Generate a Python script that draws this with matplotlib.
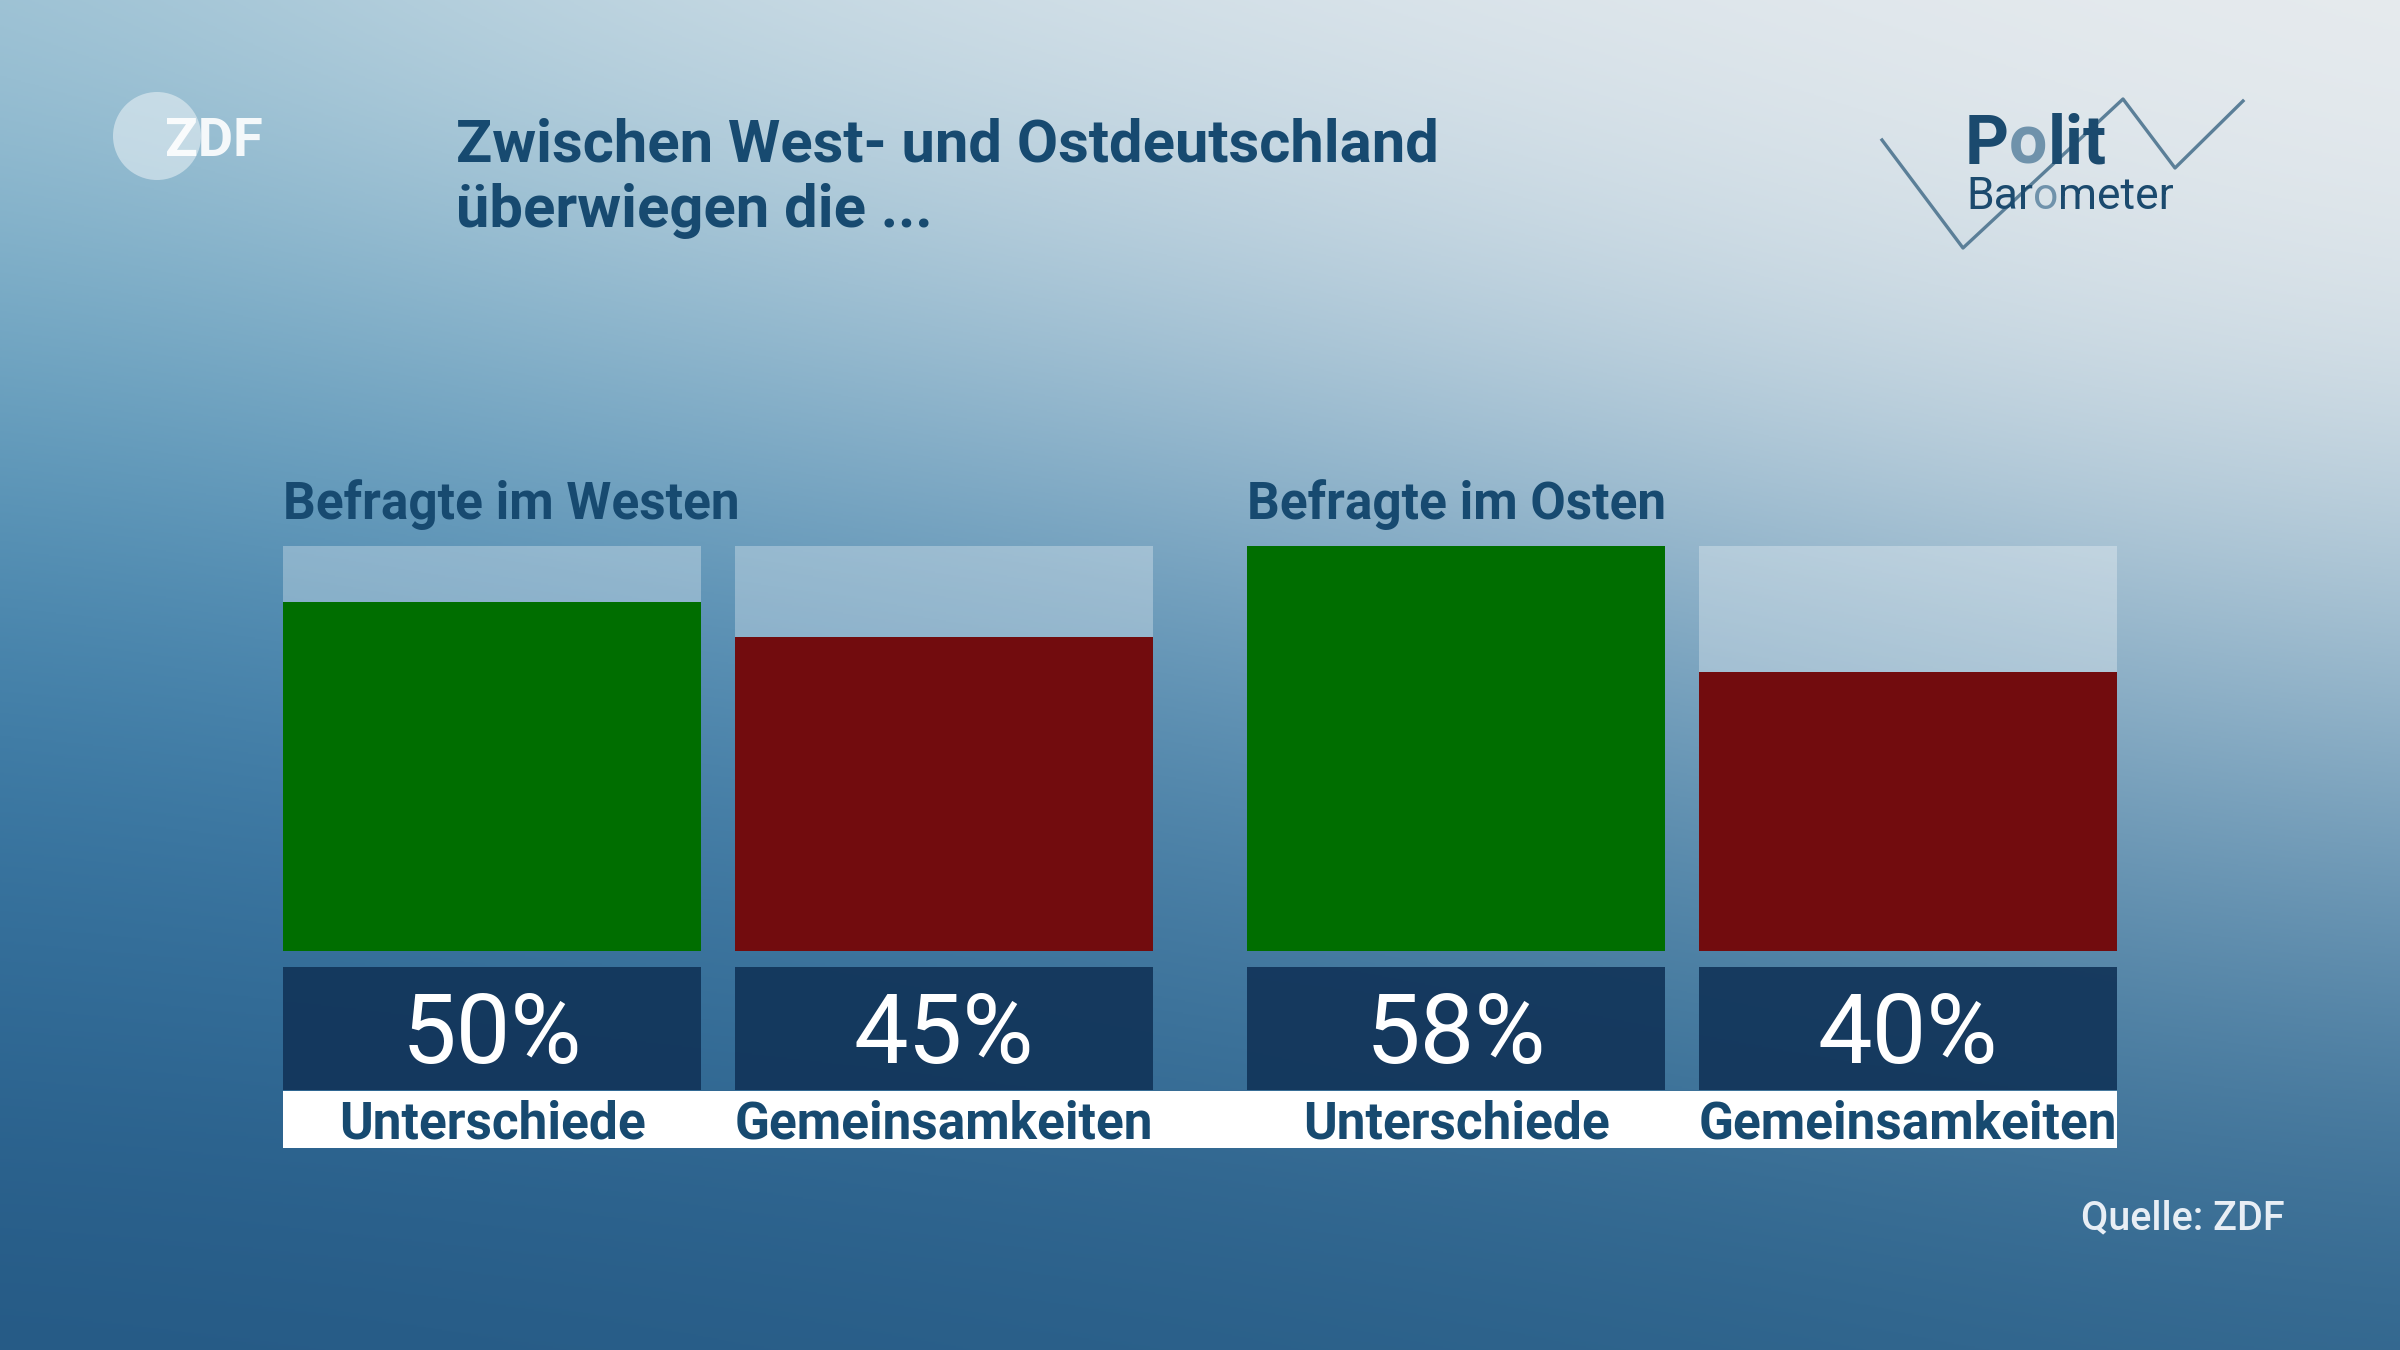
import matplotlib.pyplot as plt
import matplotlib.colors as mcolors
import numpy as np
from matplotlib.patches import Circle

# data
groups = ['Befragte im Westen', 'Befragte im Osten']
categories = ['Unterschiede', 'Gemeinsamkeiten']
west = [50, 45]
east = [58, 40]
title_lines = ['Zwischen West- und Ostdeutschland', 'überwiegen die ...']
source = 'Quelle: ZDF'

# colours
GREEN = '#006e00'
RED = '#720c0e'
BOX = '#12355a'
TEXT = '#174a70'
bar_colors = [GREEN, RED]

plt.rcParams['font.family'] = ['Roboto', 'DejaVu Sans']

W, H = 2400, 1350
fig = plt.figure(figsize=(24, 13.5), dpi=100)

# background gradient (coarse grid, smoothed by imshow)
bg_grid = [
    ['#a0c4d6', '#c9dbe4', '#dde6ec', '#e5eaee', '#e8ecef'],
    ['#6ea5c2', '#8ab5cc', '#a9c5d6', '#ccdbe4', '#dfe6eb'],
    ['#3f7ea8', '#4d88b0', '#5c91b4', '#7ba5c1', '#9dbccf'],
    ['#2f6894', '#336c97', '#3a7099', '#437a9f', '#5585a8'],
    ['#245883', '#265a85', '#285d87', '#2b6089', '#2f648c'],
]
bg_img = np.array([[mcolors.to_rgb(c) for c in row] for row in bg_grid])

bg = fig.add_axes([0, 0, 1, 1])
bg.imshow(bg_img, extent=(-300, W + 300, H + 170, -170), interpolation='bicubic',
          aspect='auto', zorder=0)
bg.set_xlim(0, W)
bg.set_ylim(H, 0)
bg.axis('off')

# layout (pixels)
left = 283
bar_w = 418
inner_gap = 34
group_gap = 94
bar_top, bar_bot = 546, 951
box_top, box_bot = 967, 1090
strip_top, strip_bot = 1091, 1148
span = 2 * (2 * bar_w + inner_gap) + group_gap

lefts = []
for g in range(2):
    for c in range(2):
        lefts.append(g * (2 * bar_w + inner_gap + group_gap) + c * (bar_w + inner_gap))
values = west + east
colors = bar_colors * 2
labels = categories * 2
vmax = max(values)


def fig_axes(top, bot):
    return fig.add_axes([left / W, (H - bot) / H, span / W, (bot - top) / H])


# bars
ax = fig_axes(bar_top, bar_bot)
ax.bar(lefts, [vmax] * 4, width=bar_w, align='edge', color='white', alpha=0.3, lw=0)
ax.bar(lefts, values, width=bar_w, align='edge', color=colors, lw=0)
ax.set_xlim(0, span)
ax.set_ylim(0, vmax)
ax.axis('off')

# value boxes
vax = fig_axes(box_top, box_bot)
vax.bar(lefts, [1] * 4, width=bar_w, align='edge', color=BOX, alpha=0.93, lw=0)
for x, v in zip(lefts, values):
    vax.text(x + bar_w / 2, 0.22, f'{v}%', ha='center', va='baseline',
             fontsize=70, color='white')
vax.set_xlim(0, span)
vax.set_ylim(0, 1)
vax.axis('off')

# category strip
lax = fig_axes(strip_top, strip_bot)
lax.set_facecolor('white')
for x, lab in zip(lefts, labels):
    lax.text(x + bar_w / 2, 0.16, lab, ha='center', va='baseline',
             fontsize=37, fontweight='bold', color=TEXT)
lax.set_xlim(0, span)
lax.set_ylim(0, 1)
lax.set_xticks([])
lax.set_yticks([])
for s in lax.spines.values():
    s.set_visible(False)

# group headers
for g, name in enumerate(groups):
    bg.text(left + lefts[2 * g], 519, name, ha='left', va='baseline',
            fontsize=37, fontweight='bold', color=TEXT)

# title
bg.text(456, 162, title_lines[0], ha='left', va='baseline', fontsize=43,
        fontweight='bold', color=TEXT)
bg.text(456, 227, title_lines[1], ha='left', va='baseline', fontsize=43,
        fontweight='bold', color=TEXT)

# source
bg.text(2285, 1229, source, ha='right', va='baseline', fontsize=28.5,
        fontweight='medium', color='#e8eef5')

# ZDF logo
bg.add_patch(Circle((157, 136), 44, color='white', alpha=0.45, lw=0))
bg.text(165, 156, 'ZDF', ha='left', va='baseline', fontsize=39,
        fontweight='bold', color='white', alpha=0.9)

# Politbarometer logo
bg.plot([1882, 1963, 2123, 2175, 2243], [140, 248, 99, 168, 101],
        color='#5b7f98', lw=2.4, zorder=2)
DARK, LIGHT = '#1b4a6e', '#6f92ab'
t = bg.text(1965, 164, 'P', ha='left', va='baseline', fontsize=49,
            fontweight='bold', color=DARK, zorder=3)
t = bg.annotate('o', xy=(1, 0), xycoords=t, ha='left', va='bottom',
                fontsize=49, fontweight='bold', color=LIGHT, zorder=3)
bg.annotate('lit', xy=(1, 0), xycoords=t, ha='left', va='bottom',
            fontsize=49, fontweight='bold', color=DARK, zorder=3)
t = bg.text(1966, 209, 'Bar', ha='left', va='baseline', fontsize=32,
            color=DARK, zorder=3)
t = bg.annotate('o', xy=(1, 0), xycoords=t, ha='left', va='bottom',
                fontsize=32, color=LIGHT, zorder=3)
bg.annotate('meter', xy=(1, 0), xycoords=t, ha='left', va='bottom',
            fontsize=32, color=DARK, zorder=3)

fig.savefig('out.png', dpi=100)
